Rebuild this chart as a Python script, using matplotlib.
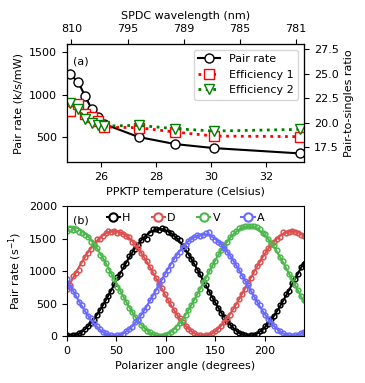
import numpy as np
import matplotlib
matplotlib.use("Agg")
import matplotlib.pyplot as plt
from matplotlib.lines import Line2D

plt.rcParams['font.size'] = 8

# --- (a) temperature scan ---
temp_c = [24.88, 25.19, 25.43, 25.67, 25.90, 26.13, 27.37, 28.69, 30.10, 33.21]
pair_rate = [1246, 1146, 985, 830, 735, 650, 497, 413, 365, 302]
eff1 = [21.17, 21.92, 20.91, 20.61, 20.16, 19.55, 19.49, 19.05, 18.64, 18.58]
eff2 = [22.00, 21.35, 20.40, 19.93, 19.73, 19.66, 19.73, 19.39, 19.15, 19.32]

wl_tick_temp = [24.94, 26.97, 29.00, 31.04, 33.07]
wl_tick_labels = ['810', '795', '789', '785', '781']

# --- (b) polarizer scan ---
angle = [0, 3, 6, 9, 12, 15, 18, 21, 24, 27, 30, 33, 36, 39, 42, 45, 48, 51, 54, 57,
         60, 63, 66, 69, 72, 75, 78, 81, 84, 87, 90, 93, 96, 99, 102, 105, 108, 111, 114, 117,
         120, 123, 126, 129, 132, 135, 138, 141, 144, 147, 150, 153, 156, 159, 162, 165, 168, 171, 174, 177,
         180, 183, 186, 189, 192, 195, 198, 201, 204, 207, 210, 213, 216, 219, 222, 225, 228, 231, 234, 237,
         240]
rate_h = [10, 5, 15, 22, 40, 55, 110, 150, 205, 240, 330, 400, 470, 560, 610, 690, 800, 905, 960, 1070,
          1120, 1230, 1300, 1340, 1400, 1470, 1540, 1490, 1590, 1640, 1650, 1635, 1655, 1640, 1600, 1580, 1540, 1515, 1470, 1390,
          1340, 1250, 1180, 1120, 1010, 950, 840, 790, 670, 590, 530, 430, 350, 300, 225, 170, 140, 80, 45, 30,
          10, 5, 8, 15, 35, 70, 95, 150, 190, 260, 310, 390, 470, 540, 640, 700, 810, 870, 960, 1060,
          1110]
rate_d = [720, 790, 930, 970, 1020, 1130, 1220, 1270, 1340, 1420, 1490, 1500, 1540, 1590, 1620, 1600, 1610, 1580, 1600, 1570,
          1540, 1520, 1450, 1410, 1350, 1280, 1220, 1150, 1060, 990, 890, 820, 740, 640, 560, 490, 400, 330, 270, 210,
          150, 110, 70, 40, 20, 10, 5, 10, 20, 45, 70, 115, 150, 210, 270, 330, 410, 470, 570, 640,
          720, 810, 900, 980, 1070, 1140, 1210, 1300, 1360, 1420, 1450, 1500, 1530, 1600, 1590, 1600, 1610, 1600, 1580, 1560,
          1540]
rate_v = [1620, 1640, 1630, 1650, 1600, 1580, 1560, 1530, 1450, 1400, 1350, 1250, 1200, 1130, 1020, 950, 870, 760, 690, 600,
          520, 430, 370, 290, 240, 175, 130, 80, 55, 25, 10, 5, 5, 15, 30, 65, 100, 140, 200, 250,
          320, 405, 470, 560, 650, 725, 830, 900, 1000, 1090, 1160, 1260, 1320, 1400, 1450, 1530, 1580, 1610, 1660, 1680,
          1700, 1690, 1700, 1690, 1680, 1640, 1590, 1570, 1500, 1430, 1400, 1320, 1210, 1150, 1060, 960, 890, 780, 710, 620,
          560]
rate_a = [870, 760, 700, 630, 520, 470, 380, 310, 270, 200, 150, 110, 60, 40, 20, 10, 5, 10, 15, 30,
          70, 110, 140, 210, 250, 330, 400, 450, 550, 620, 690, 790, 860, 950, 1020, 1100, 1180, 1240, 1300, 1370,
          1400, 1460, 1500, 1530, 1550, 1540, 1560, 1590, 1600, 1520, 1480, 1450, 1420, 1350, 1300, 1230, 1160, 1100, 1010, 930,
          850, 790, 700, 600, 530, 470, 380, 320, 260, 200, 150, 100, 70, 40, 20, 10, 5, 10, 15, 40,
          60]

pol_names = ['H', 'D', 'V', 'A']
pol_rates = [rate_h, rate_d, rate_v, rate_a]
pol_colors = ['black', '#dc5050', '#4cb84c', '#6a6aff']

fig = plt.figure(figsize=(3.65, 3.83), dpi=100)

# === panel (a) ===
ax1 = fig.add_axes([0.1836, 0.577, 0.6493, 0.308])
ax1.plot(temp_c, pair_rate, '-o', color='black', mfc='white', mec='black',
         ms=6.5, lw=1.5, label='Pair rate')
ax1.set_xlim(24.78, 33.36)
ax1.set_ylim(200, 1600)
ax1.set_yticks([500, 1000, 1500])
ax1.set_xticks([26, 28, 30, 32])
ax1.set_xlabel('PPKTP temperature (Celsius)')
ax1.set_ylabel('Pair rate (k/s/mW)')
ax1.text(0.025, 0.83, '(a)', transform=ax1.transAxes)

ax_r = ax1.twinx()
ax_r.plot(temp_c, eff1, ':s', color='red', mfc='white', mec='red',
          ms=6.5, lw=2, label='Efficiency 1')
ax_r.plot(temp_c, eff2, ':v', color='green', mfc='white', mec='green',
          ms=6.5, lw=2, label='Efficiency 2')
ax_r.set_ylim(16, 28)
ax_r.set_yticks([17.5, 20.0, 22.5, 25.0, 27.5])
ax_r.set_ylabel('Pair-to-singles ratio')

ax_t = ax1.twiny()
ax_t.set_xlim(ax1.get_xlim())
ax_t.set_xticks(wl_tick_temp)
ax_t.set_xticklabels(wl_tick_labels)
ax_t.set_xlabel('SPDC wavelength (nm)')

h1, l1 = ax1.get_legend_handles_labels()
h2, l2 = ax_r.get_legend_handles_labels()
ax_r.legend(h1 + h2, l1 + l2, loc='upper right')

# === panel (b) ===
ax2 = fig.add_axes([0.1836, 0.1227, 0.6493, 0.3394])
theta_fine = np.linspace(0, 240, 400)
handles = []
for name, rate, col in zip(pol_names, pol_rates, pol_colors):
    th = np.radians(angle)
    # sinusoid fit (Malus law) through the measured points
    design = np.column_stack([np.ones_like(th), np.cos(2 * th), np.sin(2 * th)])
    coef, *_ = np.linalg.lstsq(design, np.asarray(rate, float), rcond=None)
    tf = np.radians(theta_fine)
    fit = coef[0] + coef[1] * np.cos(2 * tf) + coef[2] * np.sin(2 * tf)
    ax2.plot(theta_fine, fit, '-', color=col, lw=1.5)
    ax2.plot(angle, rate, 'o', color=col, mfc='none', mec=col, ms=3.4, mew=1.1)
    handles.append(Line2D([], [], color=col, lw=1.5, marker='o', mfc='white',
                          mec=col, ms=6, mew=1.5))
ax2.set_xlim(0, 240)
ax2.set_ylim(0, 2000)
ax2.set_xticks([0, 50, 100, 150, 200])
ax2.set_yticks([0, 500, 1000, 1500, 2000])
ax2.set_xlabel('Polarizer angle (degrees)')
ax2.set_ylabel('Pair rate (s$^{-1}$)')
ax2.text(0.025, 0.865, '(b)', transform=ax2.transAxes)
ax2.legend(handles, pol_names, loc='upper center', ncol=4, frameon=False,
           handlelength=1.2, handletextpad=0.2, columnspacing=1.9,
           borderaxespad=0.2)

fig.savefig('out.png', dpi=100)
